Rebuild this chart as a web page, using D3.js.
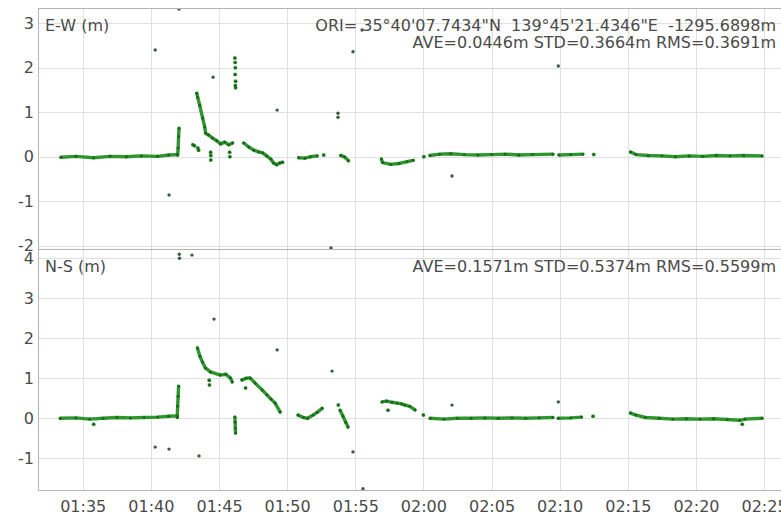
<!DOCTYPE html>
<html>
<head>
<meta charset="utf-8">
<script src="https://cdn.jsdelivr.net/npm/d3@7"></script>
<style>
  html, body { margin: 0; padding: 0; background: #fff; overflow: hidden; }
  svg { display: block; }
  text { font-family: "DejaVu Sans", Verdana, sans-serif; font-size: 16px; fill: #4a4a4a; white-space: pre; }
</style>
</head>
<body>
<svg id="chart" width="781" height="518"></svg>
<script>
// ---- axis ticks and labels ----
const timeTicks = ["01:35", "01:40", "01:45", "01:50", "01:55", "02:00",
                   "02:05", "02:10", "02:15", "02:20", "02:25"];
const ewTicks = [3, 2, 1, 0, -1, -2];
const nsTicks = [4, 3, 2, 1, 0, -1];

const ewTitle = "E-W (m)";
const nsTitle = "N-S (m)";
const originText = "ORI= 35°40'07.7434\"N  139°45'21.4346\"E  -1295.6898m";
const ewStats = "AVE=0.0446m STD=0.3664m RMS=0.3691m";
const nsStats = "AVE=0.1571m STD=0.5374m RMS=0.5599m";

// ---- E-W position error, continuous solution runs [time, metres] ----
const ewTracks = [
  [["01:33:24", -0.01], ["01:34:30", 0.01], ["01:35:48", -0.02], ["01:37:00", 0.01],
   ["01:38:12", 0.00], ["01:39:18", 0.02], ["01:40:30", 0.01], ["01:41:18", 0.04],
   ["01:41:57", 0.05]],
  [["01:41:58", 0.04], ["01:42:00", 0.20], ["01:42:02", 0.45], ["01:42:04", 0.64]],
  [["01:43:22", 1.43], ["01:43:26", 1.34], ["01:43:35", 1.16], ["01:43:48", 0.87],
   ["01:43:57", 0.67], ["01:44:01", 0.53], ["01:44:14", 0.49], ["01:44:32", 0.42],
   ["01:44:50", 0.36], ["01:45:07", 0.29], ["01:45:25", 0.33], ["01:45:43", 0.27],
   ["01:46:00", 0.31]],
  [["01:46:49", 0.31], ["01:47:11", 0.22], ["01:47:33", 0.15], ["01:47:55", 0.11],
   ["01:48:12", 0.09], ["01:48:30", 0.02], ["01:48:48", -0.05], ["01:49:00", -0.14],
   ["01:49:14", -0.18], ["01:49:27", -0.14], ["01:49:40", -0.12]],
  [["01:50:51", -0.02], ["01:51:18", -0.03], ["01:51:42", 0.00], ["01:52:12", 0.02]],
  [["01:53:56", 0.03], ["01:54:12", 0.00], ["01:54:30", -0.09]],
  [["01:56:55", -0.05], ["01:57:00", -0.13], ["01:57:36", -0.17], ["01:58:12", -0.15],
   ["01:58:48", -0.11], ["01:59:15", -0.08]],
  [["02:00:29", 0.03], ["02:01:12", 0.06], ["02:02:00", 0.07], ["02:03:00", 0.05],
   ["02:04:00", 0.04], ["02:05:00", 0.05], ["02:06:00", 0.06], ["02:07:00", 0.04],
   ["02:08:00", 0.05], ["02:09:30", 0.06]],
  [["02:09:57", 0.04], ["02:10:48", 0.05], ["02:11:42", 0.06]],
  [["02:15:12", 0.11], ["02:15:36", 0.05], ["02:16:30", 0.03], ["02:17:30", 0.02],
   ["02:18:30", 0.00], ["02:19:30", 0.02], ["02:20:30", 0.01], ["02:21:30", 0.03],
   ["02:22:30", 0.02], ["02:23:30", 0.03], ["02:24:51", 0.02]]
];

// isolated E-W epochs close to the track
const ewSingles = [
  ["01:43:05", 0.27], ["01:43:12", 0.25], ["01:43:27", 0.20], ["01:43:30", 0.15],
  ["01:44:23", 0.10], ["01:44:24", 0.03], ["01:44:24", -0.07],
  ["01:45:47", 0.10], ["01:45:48", 0.00],
  ["01:46:10", 2.22], ["01:46:11", 2.12], ["01:46:12", 2.00], ["01:46:11", 1.85],
  ["01:46:13", 1.70], ["01:46:12", 1.60], ["01:46:13", 1.55],
  ["01:52:41", 0.04], ["02:00:02", 0.00], ["02:12:30", 0.05]
];

// E-W outliers
const ewOutliers = [
  ["01:42:04", 3.32], ["01:40:19", 2.40], ["01:44:34", 1.79], ["01:41:20", -0.86],
  ["01:49:16", 1.05], ["01:53:44", 0.98], ["01:53:44", 0.89], ["01:54:50", 2.36],
  ["01:53:13", -2.05], ["01:55:30", 2.85], ["02:02:06", -0.43], ["02:09:54", 2.04]
];

// ---- N-S position error, continuous solution runs [time, metres] ----
const nsTracks = [
  [["01:33:21", 0.00], ["01:34:30", 0.01], ["01:35:30", -0.02], ["01:36:30", 0.00],
   ["01:37:30", 0.02], ["01:38:30", 0.01], ["01:39:30", 0.02], ["01:40:30", 0.03],
   ["01:41:18", 0.05], ["01:41:56", 0.06]],
  [["01:41:56", 0.02], ["01:41:58", 0.30], ["01:42:00", 0.55], ["01:42:02", 0.80]],
  [["01:43:25", 1.76], ["01:43:36", 1.55], ["01:43:47", 1.41], ["01:44:00", 1.26],
   ["01:44:22", 1.16], ["01:45:06", 1.08], ["01:45:30", 1.10], ["01:45:50", 1.01],
   ["01:45:58", 0.91]],
  [["01:46:41", 0.96], ["01:46:59", 1.00], ["01:47:17", 1.01], ["01:47:39", 0.88],
   ["01:48:10", 0.71], ["01:48:32", 0.58], ["01:48:49", 0.48], ["01:49:07", 0.38],
   ["01:49:29", 0.16]],
  [["01:46:10", 0.03], ["01:46:11", -0.10], ["01:46:12", -0.25], ["01:46:13", -0.37]],
  [["01:50:48", 0.08], ["01:51:12", 0.02], ["01:51:30", 0.00], ["01:51:54", 0.08],
   ["01:52:12", 0.15], ["01:52:34", 0.25]],
  [["01:53:53", 0.20], ["01:54:06", 0.05], ["01:54:18", -0.10], ["01:54:28", -0.22]],
  [["01:56:58", 0.41], ["01:57:18", 0.43], ["01:57:42", 0.40], ["01:58:04", 0.38],
   ["01:58:24", 0.36], ["01:58:39", 0.33], ["01:59:00", 0.30], ["01:59:23", 0.21]],
  [["02:00:30", 0.00], ["02:01:30", -0.02], ["02:02:30", 0.00], ["02:03:30", 0.00],
   ["02:04:30", 0.01], ["02:05:30", 0.00], ["02:06:30", 0.01], ["02:07:30", 0.00],
   ["02:08:30", 0.01], ["02:09:30", 0.02]],
  [["02:09:54", 0.00], ["02:10:48", 0.01], ["02:11:36", 0.03]],
  [["02:15:12", 0.13], ["02:15:36", 0.08], ["02:16:18", 0.02], ["02:17:18", 0.00],
   ["02:18:18", -0.02], ["02:19:18", -0.01], ["02:20:18", -0.02], ["02:21:18", -0.01],
   ["02:22:18", -0.03], ["02:23:12", -0.05], ["02:23:36", -0.02], ["02:24:51", 0.00]]
];

// isolated N-S epochs close to the track
const nsSingles = [
  ["01:35:48", -0.15], ["01:44:17", 0.95], ["01:44:18", 0.83], ["01:46:57", 0.76],
  ["01:53:45", 0.33], ["01:57:24", 0.20], ["02:00:00", 0.08], ["02:12:27", 0.05],
  ["02:23:24", -0.15]
];

// N-S outliers
const nsOutliers = [
  ["01:42:05", 4.10], ["01:42:06", 4.00], ["01:43:01", 4.08], ["01:40:19", -0.72],
  ["01:41:20", -0.77], ["01:43:32", -0.94], ["01:44:38", 2.48], ["01:49:16", 1.71],
  ["01:53:18", 1.18], ["01:54:50", -0.84], ["01:55:34", -1.76], ["02:02:06", 0.33],
  ["02:09:54", 0.41]
];

// ---- layout ----
const svg = d3.select("#chart");
const parse = d3.utcParse("%H:%M:%S");
const parseHM = d3.utcParse("%H:%M");
const left = 38, right = 782;
const ewTop = 8, split = 249, nsBottom = 490;
const fontStack = "\"DejaVu Sans\", Verdana, sans-serif";

const x = d3.scaleUtc()
  .domain([parse("01:31:43"), parse("02:26:19")])
  .range([left, right]);
const yEW = d3.scaleLinear().domain([-2.072, 3.344]).range([split, ewTop]);
const yNS = d3.scaleLinear().domain([-1.7925, 4.2325]).range([nsBottom, split]);

const gridColor = "#e0e0e0";
const frameColor = "#b4b4b4";
const trackColor = "#2e962e";
const dotColor = "#1a681a";
const outlierColor = "#3f5a3f";

const tickDates = timeTicks.map(parseHM);

// clip paths for the two panels
const defs = svg.append("defs");
defs.append("clipPath").attr("id", "clipEW").append("rect")
  .attr("x", left).attr("y", ewTop).attr("width", right - left).attr("height", split - ewTop);
defs.append("clipPath").attr("id", "clipNS").append("rect")
  .attr("x", left).attr("y", split).attr("width", right - left).attr("height", nsBottom - split);

function panel(y, yTicks, top, bottom, clipId, title, statLines, tracks, singles, outliers) {
  const g = svg.append("g");

  // grid
  g.append("g").selectAll("line").data(yTicks).join("line")
    .attr("x1", left).attr("x2", right)
    .attr("y1", d => Math.round(y(d)) + 0.5).attr("y2", d => Math.round(y(d)) + 0.5)
    .attr("stroke", gridColor).attr("stroke-width", 1);
  g.append("g").selectAll("line").data(tickDates).join("line")
    .attr("x1", d => Math.round(x(d)) + 0.5).attr("x2", d => Math.round(x(d)) + 0.5)
    .attr("y1", top).attr("y2", bottom)
    .attr("stroke", gridColor).attr("stroke-width", 1);

  // y axis labels (plain hyphen for negatives)
  const ax = g.append("g").attr("transform", `translate(${left},0)`)
    .call(d3.axisLeft(y).tickValues(yTicks).tickSize(0).tickPadding(4).tickFormat(d => String(d)));
  ax.select(".domain").remove();
  ax.attr("font-size", null).attr("font-family", null);
  ax.selectAll("text").style("font-size", "16px").style("font-family", fontStack)
    .attr("fill", "#4a4a4a");

  // titles and statistics
  g.append("text").attr("x", left + 7).attr("y", top + 23).text(title);
  statLines.forEach((s, i) => {
    g.append("text").attr("x", 776).attr("y", top + 23 + i * 17)
      .attr("text-anchor", "end").text(s);
  });

  // solution marks
  const marks = g.append("g").attr("clip-path", `url(#${clipId})`);
  const line = d3.line().x(d => x(parse(d[0]))).y(d => y(d[1]));
  marks.selectAll("path").data(tracks).join("path")
    .attr("d", line).attr("fill", "none")
    .attr("stroke", trackColor).attr("stroke-width", 3.4)
    .attr("stroke-linecap", "round").attr("stroke-linejoin", "round");
  marks.append("g").selectAll("circle").data(singles).join("circle")
    .attr("cx", d => x(parse(d[0]))).attr("cy", d => y(d[1]))
    .attr("r", 2).attr("fill", trackColor).attr("opacity", 0.75);
  marks.append("g").selectAll("circle").data(tracks.flat().concat(singles)).join("circle")
    .attr("cx", d => x(parse(d[0]))).attr("cy", d => y(d[1]))
    .attr("r", 1.5).attr("fill", dotColor);
  marks.append("g").selectAll("circle").data(outliers).join("circle")
    .attr("cx", d => x(parse(d[0]))).attr("cy", d => y(d[1]))
    .attr("r", 1.7).attr("fill", outlierColor);
}

panel(yEW, ewTicks, ewTop, split, "clipEW", ewTitle, [originText, ewStats],
      ewTracks, ewSingles, ewOutliers);
panel(yNS, nsTicks, split, nsBottom, "clipNS", nsTitle, [nsStats],
      nsTracks, nsSingles, nsOutliers);

// frame
const frame = svg.append("g").attr("stroke", frameColor).attr("stroke-width", 1);
frame.append("line").attr("x1", left).attr("x2", right).attr("y1", ewTop + 0.5).attr("y2", ewTop + 0.5);
frame.append("line").attr("x1", left).attr("x2", right).attr("y1", split + 0.5).attr("y2", split + 0.5);
frame.append("line").attr("x1", left).attr("x2", right).attr("y1", nsBottom + 0.5).attr("y2", nsBottom + 0.5);
frame.append("line").attr("x1", left + 0.5).attr("x2", left + 0.5).attr("y1", ewTop).attr("y2", nsBottom);

// time axis labels
const xa = svg.append("g").attr("transform", `translate(0,${nsBottom})`)
  .call(d3.axisBottom(x).tickValues(tickDates).tickSize(0).tickPadding(10.5)
    .tickFormat(d3.utcFormat("%H:%M")));
xa.select(".domain").remove();
xa.attr("font-size", null).attr("font-family", null);
xa.selectAll("text").style("font-size", "16px").style("font-family", fontStack)
  .attr("fill", "#4a4a4a");
</script>
</body>
</html>
